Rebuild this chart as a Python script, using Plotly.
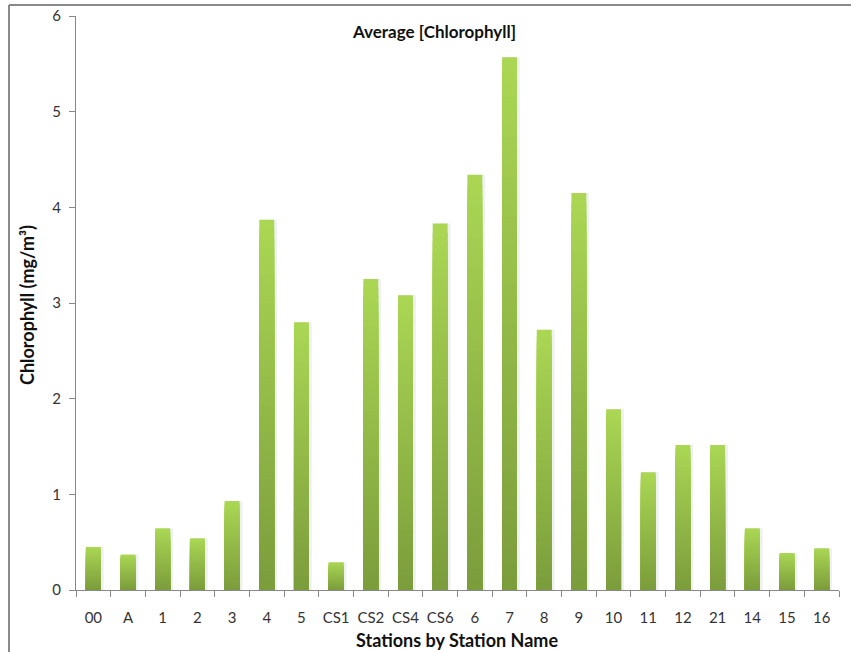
import plotly.graph_objects as go

stations = ["00", "A", "1", "2", "3", "4", "5", "CS1", "CS2", "CS4", "CS6",
            "6", "7", "8", "9", "10", "11", "12", "21", "14", "15", "16"]
chlorophyll = [0.45, 0.37, 0.645, 0.54, 0.93, 3.87, 2.80, 0.29, 3.25, 3.08, 3.83,
               4.34, 5.57, 2.72, 4.15, 1.89, 1.23, 1.515, 1.515, 0.645, 0.387, 0.436]
y_ticks = [0, 1, 2, 3, 4, 5, 6]

TOP = (170, 214, 84)
BOT = (124, 157, 60)
N = 40

W, H = 851, 652
ML, MR, MT, MB = 76, 12, 16, 62
PW = W - ML - MR
PH = H - MT - MB

fig = go.Figure()
# subtle shadow
fig.add_trace(go.Bar(x=stations, y=chlorophyll, width=0.5, offset=-0.2,
                     marker=dict(color="rgba(0,0,0,0.06)", line=dict(width=0)),
                     hoverinfo="skip", showlegend=False))
for k in range(N):
    f = 1 - k / N
    t = k / (N - 1)
    c = tuple(round(TOP[i] + (BOT[i] - TOP[i]) * t) for i in range(3))
    fig.add_trace(go.Bar(x=stations, y=[v * f for v in chlorophyll], width=0.43,
                         marker=dict(color="rgb(%d,%d,%d)" % c, line=dict(width=0)),
                         showlegend=False, hoverinfo="skip"))

def px_x(px):
    return (px - ML) / PW

def px_y(py):
    return (H - MB - py) / PH

font = "Lato, 'Open Sans', sans-serif"
fig.update_layout(
    width=W, height=H, barmode="overlay",
    margin=dict(l=ML, r=MR, t=MT, b=MB, autoexpand=False),
    paper_bgcolor="white", plot_bgcolor="white",
    font=dict(family=font, size=14, color="#222"),
    xaxis=dict(type="category", tickson="boundaries", ticks="outside", ticklen=6,
               tickcolor="#888", showline=True, linecolor="#888", linewidth=1,
               showgrid=False, tickfont=dict(size=15, color="#333"), tickangle=0,
               automargin=False,
               ticklabelstandoff=14, range=[-0.5, len(stations) - 0.5]),
    yaxis=dict(range=[0, 6], tickvals=y_ticks, ticks="outside", ticklen=6,
               tickcolor="#888", showline=True, linecolor="#888", linewidth=1,
               showgrid=False, zeroline=False, tickfont=dict(size=15, color="#333"),
               automargin=False, ticklabelstandoff=5),
    shapes=[
        dict(type="line", xref="paper", yref="paper", x0=px_x(9), x1=px_x(W + 5),
             y0=px_y(5), y1=px_y(5), line=dict(color="#8a8a8a", width=2)),
        dict(type="line", xref="paper", yref="paper", x0=px_x(9), x1=px_x(9),
             y0=px_y(5), y1=px_y(H + 5), line=dict(color="#8a8a8a", width=2)),
    ],
    annotations=[
        dict(text="<b>Average [Chlorophyll]</b>", xref="paper", yref="paper",
             x=px_x(434), y=px_y(31), showarrow=False, font=dict(size=17, color="#111"),
             xanchor="center", yanchor="middle"),
        dict(text="<b>Stations by Station Name</b>", xref="paper", yref="paper",
             x=px_x(457), y=px_y(640), showarrow=False, font=dict(size=18, color="#111"),
             xanchor="center", yanchor="middle"),
        dict(text="<b>Chlorophyll (mg/m³)</b>", xref="paper", yref="paper",
             x=px_x(27), y=px_y(305), showarrow=False, textangle=-90,
             font=dict(size=18, color="#111"), xanchor="center", yanchor="middle"),
    ],
)

fig.write_html("out.html")
